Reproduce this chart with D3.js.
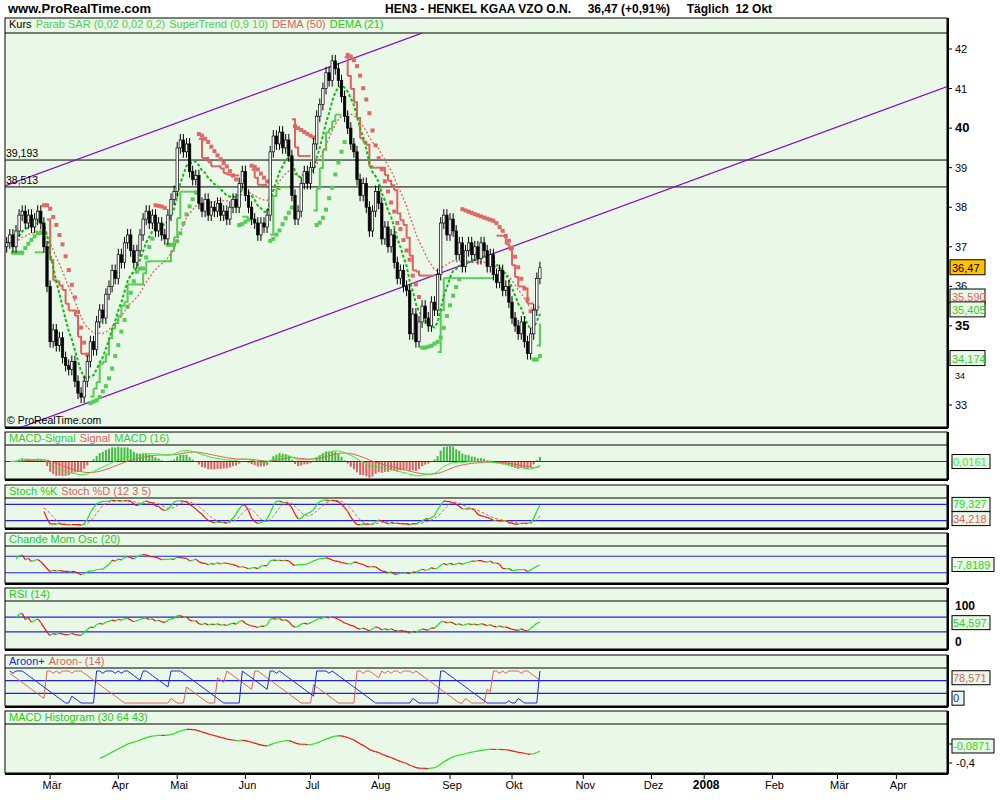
<!DOCTYPE html>
<html>
<head>
<meta charset="utf-8">
<script src="https://cdn.jsdelivr.net/npm/d3@7"></script>
<style>
body { margin: 0; background: #fff; }
text { font-family: "Liberation Sans", Arial, sans-serif; }
</style>
</head>
<body>
<svg id="chart" width="1000" height="800"></svg>
<script>
// Tagesschlusskurse HEN3, letzte 173 Handelstage bis 12.10.2007
const closes = [
  37.1, 37.3, 37.0, 37.4, 37.8, 37.9, 37.6, 37.8, 37.5, 37.7,
  37.9, 37.6, 37.0, 36.0, 34.6, 34.9, 34.5, 34.7, 34.2, 34.0,
  33.9, 34.1, 33.6, 33.3, 33.2, 33.6, 34.1, 34.6, 34.4, 35.1,
  35.4, 35.2, 35.8, 36.0, 36.4, 36.2, 36.8, 36.6, 37.1, 37.3,
  36.9, 36.6, 36.9, 37.3, 37.7, 37.9, 37.6, 37.8, 37.4, 37.6,
  37.3, 37.2, 37.8, 38.2, 38.4, 39.5, 39.7, 39.4, 39.6, 38.9,
  38.7, 38.8, 38.1, 37.9, 38.2, 37.8, 38.0, 37.9, 38.1, 37.8,
  37.9, 37.7, 38.0, 38.2, 38.0, 38.6, 38.9, 38.3, 38.0, 37.7,
  37.6, 37.3, 37.6, 37.5, 37.8, 39.4, 39.8, 39.6, 39.9, 39.5,
  39.7, 39.3, 38.3, 37.7, 37.9, 38.6, 38.9, 38.6, 39.0, 39.6,
  40.3, 40.6, 41.0, 41.4, 41.2, 41.7, 41.5, 41.2, 40.8, 40.3,
  40.0, 39.6, 39.4, 38.7, 38.3, 38.6, 38.0, 37.4, 37.9, 38.4,
  38.1, 37.2, 37.5, 37.0, 37.3, 36.6, 36.2, 36.4, 36.0, 35.9,
  34.8, 35.3, 34.6, 35.1, 35.5, 35.2, 35.0, 35.6, 35.4, 36.3,
  37.6, 37.8, 37.3, 37.7, 37.4, 36.8, 37.1, 36.5, 36.9, 37.1,
  36.8, 37.0, 36.7, 37.1, 36.9, 36.5, 36.8, 36.3, 36.1, 36.4,
  35.9, 36.0, 35.6, 35.2, 35.0, 34.8, 35.1, 34.6, 34.3, 34.8,
  35.4, 36.2, 36.47
];
const firstOpen = 37.0;
const wick = 0.15;

const priceTicks = [33, 34, 35, 36, 37, 38, 39, 40, 41, 42];
const boldTicks = [35, 40];
const monthNames = ["Jan", "Feb", "Mär", "Apr", "Mai", "Jun", "Jul", "Aug", "Sep", "Okt", "Nov", "Dez"];
const holidays = ["2007-04-06", "2007-04-09", "2007-05-01", "2007-12-24", "2007-12-25", "2007-12-26", "2007-12-31", "2008-01-01", "2008-03-21", "2008-03-24"];
const hLines = [39.193, 38.513];
// Trendkanal: [Index, Kurs] Paare
const channels = [[[-1.6, 38.51], [133.9, 42.40]], [[24.2, 33.0], [302, 41.01]]];
const lastLabels = [
  { v: 36.47, t: "36,47", fill: "#ffc000", color: "#000" },
  { v: 35.73, t: "35,590", fill: "#eaf8e8", color: "#e06060" },
  { v: 35.405, t: "35,405", fill: "#eaf8e8", color: "#33cc33" },
  { v: 34.174, t: "34,174", fill: "#eaf8e8", color: "#33cc33" }
];

// Handelstage erzeugen
const dates = [];
const endDate = new Date(2007, 9, 12);
const isTrading = d => d.getDay() !== 0 && d.getDay() !== 6 && !holidays.includes(d3.timeFormat("%Y-%m-%d")(d));
for (let d = new Date(endDate); dates.length < closes.length; d = d3.timeDay.offset(d, -1)) {
  if (isTrading(d)) dates.unshift(new Date(d));
}
const future = [];
for (let d = d3.timeDay.offset(endDate, 1); d < new Date(2008, 3, 20); d = d3.timeDay.offset(d, 1)) {
  if (isTrading(d)) future.push(new Date(d));
}
const allDates = dates.concat(future);

const bars = closes.map((c, i) => {
  const o = i === 0 ? firstOpen : closes[i - 1];
  return { o, c, h: Math.max(o, c) + wick, l: Math.min(o, c) - wick };
});

// Indikatoren
function ema(arr, n) { const k = 2 / (n + 1); const out = []; arr.forEach((v, i) => out.push(i === 0 ? v : v * k + out[i - 1] * (1 - k))); return out; }
function sma(arr, n) { return arr.map((v, i) => { const s = arr.slice(Math.max(0, i - n + 1), i + 1); return d3.mean(s); }); }
function dema(arr, n) { const e1 = ema(arr, n); const e2 = ema(e1, n); return e1.map((v, i) => 2 * v - e2[i]); }

const dema50 = dema(closes, 50), dema21 = dema(closes, 21);

// Parabolic SAR
const sar = [];
(function () {
  let up = true, af = 0.02, ep = bars[0].h, s = bars[0].l;
  bars.forEach((b, i) => {
    if (i === 0) { sar.push({ v: s, up }); return; }
    s = s + af * (ep - s);
    if (up) {
      s = Math.min(s, bars[i - 1].l, i > 1 ? bars[i - 2].l : bars[i - 1].l);
      if (b.l < s) { up = false; s = ep; ep = b.l; af = 0.02; }
      else if (b.h > ep) { ep = b.h; af = Math.min(0.2, af + 0.02); }
    } else {
      s = Math.max(s, bars[i - 1].h, i > 1 ? bars[i - 2].h : bars[i - 1].h);
      if (b.h > s) { up = true; s = ep; ep = b.h; af = 0.02; }
      else if (b.l < ep) { ep = b.l; af = Math.min(0.2, af + 0.02); }
    }
    sar.push({ v: s, up });
  });
})();

// SuperTrend (0,9 10)
const tr = bars.map((b, i) => i === 0 ? b.h - b.l : Math.max(b.h - b.l, Math.abs(b.h - bars[i - 1].c), Math.abs(b.l - bars[i - 1].c)));
const atr = sma(tr, 10);
const superT = [];
(function () {
  let trend = 1, fu = 0, fl = 0;
  bars.forEach((b, i) => {
    const mid = (b.h + b.l) / 2;
    const bu = mid + 0.9 * atr[i] * 2, bl = mid - 0.9 * atr[i] * 2;
    if (i === 0) { fu = bu; fl = bl; }
    else {
      fu = (bu < fu || bars[i - 1].c > fu) ? bu : fu;
      fl = (bl > fl || bars[i - 1].c < fl) ? bl : fl;
    }
    if (trend === 1 && b.c < fl) trend = -1;
    else if (trend === -1 && b.c > fu) trend = 1;
    superT.push({ v: trend === 1 ? fl : fu, up: trend === 1 });
  });
})();

const macd = ema(closes, 12).map((v, i) => v - ema(closes, 26)[i]);
const macdSig = ema(macd, 9);
const macdDiff = macd.map((v, i) => v - macdSig[i]);

const hh = (i, n) => d3.max(bars.slice(Math.max(0, i - n + 1), i + 1), b => b.h);
const ll = (i, n) => d3.min(bars.slice(Math.max(0, i - n + 1), i + 1), b => b.l);
const rawK = bars.map((b, i) => 100 * (b.c - ll(i, 12)) / (hh(i, 12) - ll(i, 12)));
const stochK = sma(rawK, 3), stochD = sma(stochK, 5);

const chande = closes.map((c, i) => {
  let up = 0, dn = 0;
  for (let j = Math.max(1, i - 19); j <= i; j++) { const d = closes[j] - closes[j - 1]; if (d > 0) up += d; else dn -= d; }
  return up + dn === 0 ? 0 : 100 * (up - dn) / (up + dn);
});

const rsi = [];
(function () {
  let ag = 0, al = 0;
  closes.forEach((c, i) => {
    if (i === 0) { rsi.push(50); return; }
    const d = c - closes[i - 1];
    ag = (ag * 13 + Math.max(d, 0)) / 14; al = (al * 13 + Math.max(-d, 0)) / 14;
    rsi.push(al === 0 ? 100 : 100 - 100 / (1 + ag / al));
  });
})();

const aroonUp = [], aroonDn = [];
bars.forEach((b, i) => {
  const s = bars.slice(Math.max(0, i - 14), i + 1);
  const hiIdx = d3.maxIndex(s, d => d.h), loIdx = d3.minIndex(s, d => d.l);
  aroonUp.push(100 * (14 - (s.length - 1 - hiIdx)) / 14);
  aroonDn.push(100 * (14 - (s.length - 1 - loIdx)) / 14);
});

const m2 = ema(closes, 30).map((v, i) => v - ema(closes, 64)[i]);
const hist2 = m2.map((v, i) => v - ema(m2, 43)[i]);

// Zeichnen
const svg = d3.select("#chart");
const L = 5, R = 947;
const iOct = dates.findIndex(d => d.getMonth() === 9);
const x = d3.scaleLinear().domain([iOct, iOct + 100]).range([512, 822]);
const y = d3.scaleLinear().domain([33, 42]).range([405, 49]);

svg.append("text").attr("x", 8).attr("y", 13).attr("font-size", 13).attr("font-weight", "bold").text("www.ProRealTime.com");
svg.append("text").attr("x", 385).attr("y", 13).attr("font-size", 12).attr("font-weight", "bold")
  .attr("xml:space", "preserve").text("HEN3 - HENKEL KGAA VZO O.N.     36,47 (+0,91%)     Täglich  12 Okt");

function panel(top, lineY, bottom) {
  const g = svg.append("g");
  g.append("rect").attr("x", L).attr("y", top).attr("width", R - L).attr("height", bottom - top)
    .attr("fill", "#eaf8e8").attr("stroke", "#000").attr("stroke-width", 1);
  g.append("line").attr("x1", L).attr("x2", R).attr("y1", lineY).attr("y2", lineY).attr("stroke", "#000");
  g.append("line").attr("x1", R + 1).attr("x2", R + 1).attr("y1", top).attr("y2", bottom + 1).attr("stroke", "#000").attr("stroke-width", 2);
  g.append("line").attr("x1", L).attr("x2", R + 1).attr("y1", bottom + 1).attr("y2", bottom + 1).attr("stroke", "#000").attr("stroke-width", 2);
  const id = "clip" + top;
  svg.append("clipPath").attr("id", id).append("rect").attr("x", L).attr("y", lineY).attr("width", R - L).attr("height", bottom - lineY);
  return { g: svg.append("g").attr("clip-path", `url(#${id})`), top, lineY, bottom };
}
function label(p, parts) {
  const t = svg.append("text").attr("x", L + 4).attr("y", p.top + 10).attr("font-size", 11);
  parts.forEach(([s, c], k) => t.append("tspan").attr("fill", c).attr("dx", k === 0 ? 0 : 4).text(s));
}

// Hauptchart
const main = panel(18, 33, 427);
label(main, [["Kurs", "#000"], ["Parab SAR (0,02 0,02 0,2)", "#55cc55"], ["SuperTrend (0,9 10)", "#55cc55"], ["DEMA (50)", "#e06060"], ["DEMA (21)", "#22cc22"]]);
const mg = main.g;

hLines.forEach(v => {
  mg.append("line").attr("x1", L).attr("x2", R).attr("y1", y(v)).attr("y2", y(v)).attr("stroke", "#000");
  svg.append("text").attr("x", 6).attr("y", y(v) - 3).attr("font-size", 10.5).text(d3.format(".3f")(v).replace(".", ","));
});
channels.forEach(([a, b]) => {
  const sl = (b[1] - a[1]) / (b[0] - a[0]);
  const i0 = -5, i1 = 320;
  mg.append("line").attr("x1", x(i0)).attr("y1", y(a[1] + sl * (i0 - a[0]))).attr("x2", x(i1)).attr("y2", y(a[1] + sl * (i1 - a[0])))
    .attr("stroke", "#8000d0").attr("stroke-width", 1.2);
});

// SAR Punkte
mg.selectAll(".sar").data(sar.slice(2)).join("rect")
  .attr("x", (d, i) => x(i + 2) - 2).attr("y", d => y(d.v) - 2).attr("width", 4).attr("height", 4)
  .attr("fill", d => d.up ? "#55cc55" : "#e06868");

// SuperTrend
for (let i = 10; i < superT.length; i++) {
  const a = superT[i - 1], b = superT[i];
  if (a.up !== b.up) continue;
  mg.append("path").attr("d", `M${x(i - 1)},${y(a.v)}H${x(i)}V${y(b.v)}`)
    .attr("fill", "none").attr("stroke", b.up ? "#55cc55" : "#e06060").attr("stroke-width", 2);
}

const line = d3.line().x((d, i) => x(i)).y(d => y(d));
mg.append("path").attr("d", line(dema50)).attr("fill", "none").attr("stroke", "#e06060").attr("stroke-width", 1.3).attr("stroke-dasharray", "2,2");
mg.append("path").attr("d", line(dema21)).attr("fill", "none").attr("stroke", "#11bb11").attr("stroke-width", 2).attr("stroke-dasharray", "3,2");

// Kerzen
const cg = mg.selectAll(".c").data(bars).join("g");
cg.append("line").attr("x1", (d, i) => x(i)).attr("x2", (d, i) => x(i)).attr("y1", d => y(d.h)).attr("y2", d => y(d.l)).attr("stroke", "#000");
cg.append("rect").attr("x", (d, i) => x(i) - 1.2).attr("width", 2.4)
  .attr("y", d => y(Math.max(d.o, d.c))).attr("height", d => Math.max(1, Math.abs(y(d.o) - y(d.c))))
  .attr("fill", d => d.c >= d.o ? "#fff" : "#000").attr("stroke", "#000").attr("stroke-width", 0.7);

svg.append("text").attr("x", 7).attr("y", 424).attr("font-size", 10.5).text("© ProRealTime.com");

// Preisachse
priceTicks.forEach(v => {
  svg.append("line").attr("x1", R + 1).attr("x2", R + 5).attr("y1", y(v)).attr("y2", y(v)).attr("stroke", "#000");
  const dy = v === 34 ? 14 : 4; // unter dem Wertkasten
  svg.append("text").attr("x", R + 8).attr("y", y(v) + dy).attr("font-size", boldTicks.includes(v) ? 13 : (v === 34 ? 9 : 11))
    .attr("font-weight", boldTicks.includes(v) ? "bold" : "normal").text(v);
});
lastLabels.forEach(d => {
  svg.append("rect").attr("x", R + 3).attr("y", y(d.v) - 8).attr("width", 35).attr("height", 15).attr("fill", d.fill).attr("stroke", "#000");
  svg.append("text").attr("x", R + 5).attr("y", y(d.v) + 4).attr("font-size", 11).attr("fill", d.color).text(d.t);
});

// Hilfsfunktionen Unterpanels
function colorLine(g, vals, ys, start) {
  for (let i = start + 1; i < vals.length; i++) {
    g.append("line").attr("x1", x(i - 1)).attr("x2", x(i)).attr("y1", ys(vals[i - 1])).attr("y2", ys(vals[i]))
      .attr("stroke", vals[i] >= vals[i - 1] ? "#22dd22" : "#ee1111").attr("stroke-width", 1.2);
  }
}
function plain(g, vals, ys, color, start, dash) {
  g.append("path").attr("d", d3.line().x((d, i) => x(i + start)).y(d => ys(d))(vals.slice(start)))
    .attr("fill", "none").attr("stroke", color).attr("stroke-width", 1).attr("stroke-dasharray", dash || null);
}
function hline(g, ys, v) { g.append("line").attr("x1", L).attr("x2", R).attr("y1", ys(v)).attr("y2", ys(v)).attr("stroke", "#2222dd").attr("stroke-width", 1.2); }
function valBox(yy, t, c, w) {
  svg.append("rect").attr("x", R + 5).attr("y", yy - 7).attr("width", w || 38).attr("height", 14).attr("fill", "#eaf8e8").attr("stroke", "#000");
  svg.append("text").attr("x", R + 6).attr("y", yy + 4).attr("font-size", 11).attr("fill", c).text(t);
}

// MACD
const p1 = panel(432, 445, 479);
label(p1, [["MACD-Signal", "#33cc33"], ["Signal", "#e06060"], ["MACD (16)", "#33cc33"]]);
const y1 = d3.scaleLinear().domain([-1.1, 1.1]).range([476, 447]);
p1.g.selectAll("rect").data(macdDiff).join("rect")
  .attr("x", (d, i) => x(i) - 1).attr("width", 2)
  .attr("y", d => Math.min(y1(d * 3), y1(0))).attr("height", d => Math.abs(y1(d * 3) - y1(0)))
  .attr("fill", d => d >= 0 ? "#44bb44" : "#e06060");
hline(p1.g, y1, 0);
plain(p1.g, macdSig, y1, "#e06060", 1);
plain(p1.g, macd, y1, "#33ee33", 1);
valBox(y1(0), "0,0161", "#33ee33");

// Stochastik
const p2 = panel(485, 498, 528);
label(p2, [["Stoch %K", "#22cc22"], ["Stoch %D (12 3 5)", "#e06060"]]);
const y2 = d3.scaleLinear().domain([0, 100]).range([526, 499]);
hline(p2.g, y2, 80); hline(p2.g, y2, 20);
plain(p2.g, stochD, y2, "#e06060", 12, "3,2");
colorLine(p2.g, stochK, y2, 12);
valBox(y2(80), "79,327", "#22dd22");
valBox(y2(20) - 2, "34,218", "#e06060");

// Chande
const p3 = panel(533, 546, 583);
label(p3, [["Chande Mom Osc (20)", "#22cc22"]]);
const y3 = d3.scaleLinear().domain([-100, 100]).range([581, 548]);
hline(p3.g, y3, 50); hline(p3.g, y3, -50);
colorLine(p3.g, chande, y3, 3);
valBox(y3(0), "-7,8189", "#22dd22", 42);

// RSI
const p4 = panel(588, 601, 649);
label(p4, [["RSI (14)", "#22cc22"]]);
const y4 = d3.scaleLinear().domain([0, 100]).range([643, 606]);
hline(p4.g, y4, 70); hline(p4.g, y4, 30);
colorLine(p4.g, rsi, y4, 3);
svg.append("text").attr("x", R + 8).attr("y", 610).attr("font-size", 12).attr("font-weight", "bold").text("100");
svg.append("text").attr("x", R + 8).attr("y", 646).attr("font-size", 12).attr("font-weight", "bold").text("0");
valBox(y4(55), "54,597", "#22dd22");

// Aroon
const p5 = panel(655, 668, 706);
label(p5, [["Aroon+", "#2222dd"], ["Aroon- (14)", "#e06060"]]);
const y5 = d3.scaleLinear().domain([0, 100]).range([703, 671]);
hline(p5.g, y5, 70); hline(p5.g, y5, 30);
plain(p5.g, aroonDn, y5, "#e06060", 1);
plain(p5.g, aroonUp, y5, "#2222dd", 1);
valBox(y5(79), "78,571", "#e06060");
valBox(y5(15), "0", "#2222dd", 12);

// MACD Histogramm (30 64 43)
const p6 = panel(711, 724, 773);
label(p6, [["MACD Histogram (30 64 43)", "#22cc22"]]);
const ext = d3.extent(hist2.slice(30));
const y6 = d3.scaleLinear().domain([ext[0] - 0.05, ext[1] + 0.05]).range([770, 728]);
colorLine(p6.g, hist2, y6, 30);
[[744, ""], [763, "-0,4"]].forEach(([yy, t]) => {
  svg.append("line").attr("x1", R + 1).attr("x2", R + 5).attr("y1", yy).attr("y2", yy).attr("stroke", "#000");
  svg.append("text").attr("x", R + 9).attr("y", yy + 4).attr("font-size", 11).text(t);
});
valBox(746, "-0,0871", "#22dd22", 42);

// Zeitachse
allDates.forEach((d, i) => {
  if (i === 0 || allDates[i - 1].getMonth() === d.getMonth()) return;
  const xx = x(i);
  if (xx > R) return;
  svg.append("line").attr("x1", xx).attr("x2", xx).attr("y1", 774).attr("y2", 779).attr("stroke", "#000");
  const jan = d.getMonth() === 0;
  svg.append("text").attr("x", xx + 2).attr("y", 789).attr("text-anchor", "middle").attr("font-size", jan ? 12 : 11)
    .attr("font-weight", jan ? "bold" : "normal").text(jan ? d.getFullYear() : monthNames[d.getMonth()]);
});
</script>
</body>
</html>
